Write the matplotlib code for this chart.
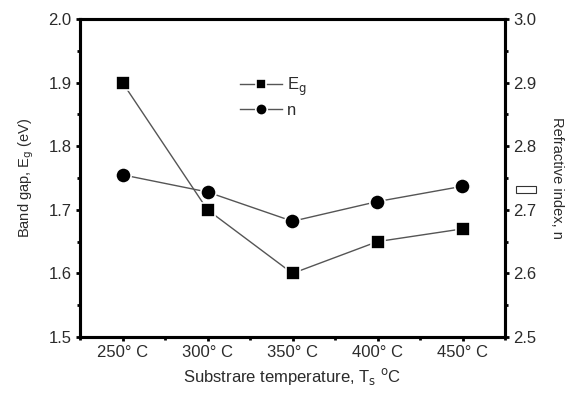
import matplotlib
matplotlib.use("Agg")
import matplotlib.pyplot as plt
from matplotlib.patches import Rectangle
from matplotlib.ticker import MultipleLocator

plt.rcParams['font.family'] = ['Liberation Sans', 'DejaVu Sans']

temps = [250, 300, 350, 400, 450]
tick_labels = ['250° C', '300° C', '350° C', '400° C', '450° C']
eg = [1.90, 1.70, 1.60, 1.65, 1.67]
n_idx = [2.755, 2.728, 2.682, 2.713, 2.737]

fig = plt.figure(figsize=(5.67, 3.96), dpi=100)
ax = fig.add_axes([80/567, 59/396, 425/567, 318/396])
ax2 = ax.twinx()

txtc = '#2b2b2b'
linec = '#555555'
l1, = ax.plot(temps, eg, color=linec, lw=1.0, marker='s', ms=10, mfc='black', mec='white', mew=1.2,
              label=r'E$_{\rm g}$', zorder=3)
l2, = ax2.plot(temps, n_idx, color=linec, lw=1.0, marker='o', ms=11, mfc='black', mec='white', mew=1.2,
               label='n', zorder=3)

ax.set_xlim(225, 475)
ax.set_ylim(1.5, 2.0)
ax2.set_ylim(2.5, 3.0)
ax.set_xticks(temps)
ax.set_xticklabels(tick_labels)
ax.xaxis.set_minor_locator(MultipleLocator(25))
ax.yaxis.set_major_locator(MultipleLocator(0.1))
ax.yaxis.set_minor_locator(MultipleLocator(0.05))
ax2.yaxis.set_major_locator(MultipleLocator(0.1))
ax2.yaxis.set_minor_locator(MultipleLocator(0.05))

for a in (ax, ax2):
    for s in a.spines.values():
        s.set_linewidth(2.2)
    a.tick_params(which='major', direction='out', length=3, width=2, labelsize=12, labelcolor=txtc, pad=3)
    a.tick_params(which='minor', direction='out', length=2.5, width=2)
ax.set_xlabel(r'Substrare temperature, T$_{\rm s}$ $^{\rm o}$C', fontsize=12, color=txtc, labelpad=4)
ax.set_ylabel(r'Band gap, E$_{\rm g}$ (eV)', fontsize=10.5, color=txtc, labelpad=9)
ax2.set_ylabel('Refractive index, n', fontsize=10.5, color=txtc, rotation=270, labelpad=20)

leg = ax.legend(handles=[l1, l2], loc='upper left', bbox_to_anchor=(0.357, 0.847), frameon=False,
                fontsize=12, handlelength=2.5, handletextpad=0.3, labelspacing=0.3, borderpad=0,
                markerscale=0.75)
for t in leg.get_texts():
    t.set_color(txtc)

fig.add_artist(Rectangle((516/567, 1 - 193/396), 20/567, 7/396, transform=fig.transFigure,
                         facecolor='white', edgecolor='#333333', lw=0.8))

fig.savefig('out.png', dpi=100)
